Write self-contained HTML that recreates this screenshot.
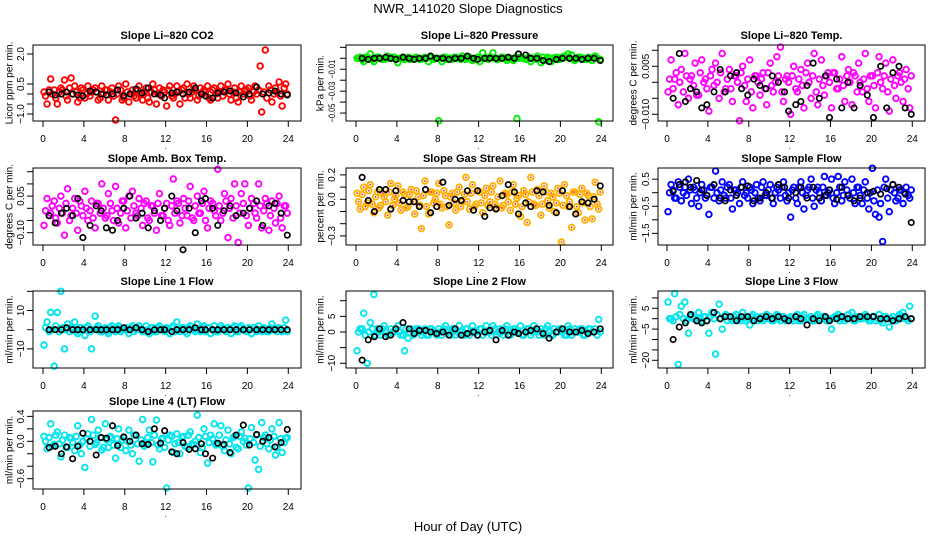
<!DOCTYPE html>
<html><head><meta charset="utf-8"><title>NWR_141020 Slope Diagnostics</title>
<style>
html,body{margin:0;padding:0;background:#fff;}
svg{display:block;font-family:"Liberation Sans",Arial,sans-serif;}
</style></head>
<body>
<svg id="chart" width="936" height="540" viewBox="0 0 936 540" xmlns="http://www.w3.org/2000/svg">
<rect width="936" height="540" fill="#fff"/>
<text x="468" y="13" text-anchor="middle" font-size="13">NWR_141020  Slope Diagnostics</text>
<text x="468" y="531" text-anchor="middle" font-size="13">Hour of Day (UTC)</text>
</svg>
<script>
// shared hour categories
const hoursColor = [0.1,0.4,0.75,1.1,1.4,1.75,2.1,2.4,2.75,3.1,3.4,3.75,4.1,4.4,4.75,5.1,5.4,5.75,6.1,6.4,6.75,7.1,7.4,7.75,8.1,8.4,8.75,9.1,9.4,9.75,10.1,10.4,10.75,11.1,11.4,11.75,12.1,12.4,12.75,13.1,13.4,13.75,14.1,14.4,14.75,15.1,15.4,15.75,16.1,16.4,16.75,17.1,17.4,17.75,18.1,18.4,18.75,19.1,19.4,19.75,20.1,20.4,20.75,21.1,21.4,21.75,22.1,22.4,22.75,23.1,23.4,23.75];
const hoursColor2 = [0.25,0.6,0.9,1.25,1.6,1.9,2.25,2.6,2.9,3.25,3.6,3.9,4.25,4.6,4.9,5.25,5.6,5.9,6.25,6.6,6.9,7.25,7.6,7.9,8.25,8.6,8.9,9.25,9.6,9.9,10.25,10.6,10.9,11.25,11.6,11.9,12.25,12.6,12.9,13.25,13.6,13.9,14.25,14.6,14.9,15.25,15.6,15.9,16.25,16.6,16.9,17.25,17.6,17.9,18.25,18.6,18.9,19.25,19.6,19.9,20.25,20.6,20.9,21.25,21.6,21.9,22.25,22.6,22.9,23.25,23.6,23.9];
const hoursBlack = [0.6,1.2,1.8,2.3,2.9,3.4,3.9,4.6,5.2,5.7,6.2,6.8,7.3,7.9,8.5,9.1,9.7,10.3,10.9,11.5,11.9,12.6,13.1,13.7,14.3,14.9,15.5,15.9,16.6,17.1,17.7,18.3,18.9,19.6,20.2,20.9,21.5,22.1,22.7,23.3,23.9];
const xTicks = [0,4,8,12,16,20,24];

const co2Color = [0.1,-0.5,0.75,0.2,-0.5,0.3,0.7,-0.3,0.8,0.4,-0.4,0.3,-0.2,0.4,0.1,0.3,-0.3,0.4,0.2,-0.3,0.3,-1.3,0.4,-0.3,0.5,-0.4,0.2,-0.2,0.4,-0.3,0.3,-0.4,0.5,-0.5,0.3,0.2,-0.6,0.4,-0.2,0.4,-0.5,0.3,0.5,-0.2,0.4,-0.3,0.3,0.2,0.4,-0.3,0.3,-0.2,0.4,0.2,0.5,-0.3,0.3,-0.4,0.4,0.2,0.3,-0.3,0.4,0.2,-0.9,2.2,0.4,-0.4,0.3,0.6,-0.6,0.5];
const co2Color2 = [-0.1,0.2,0.0,-0.2,0.1,0.2,-0.1,0.3,0.0,0.1,-0.2,0.2,0.0,-0.1,0.2,0.1,-0.2,0.0,0.2,0.1,-0.1,0.0,0.2,-0.2,0.1,0.0,-0.1,0.2,0.0,0.1,-0.2,0.1,0.2,0.0,-0.1,0.1,0.2,-0.1,0.0,0.1,0.2,-0.2,0.0,0.1,0.2,-0.1,0.0,0.1,-0.2,0.2,0.0,0.1,-0.1,0.2,0.0,0.1,-0.2,0.1,0.0,0.2,-0.1,0.1,0.0,1.4,0.1,-0.2,0.2,0.0,0.1,-0.1,0.3,0.0];
const co2Black = [0.1,-0.05,0.0,0.1,0.0,-0.05,-0.1,0.15,0.1,0.0,-0.05,0.0,0.2,-0.1,0.0,0.25,0.05,0.3,0.0,-0.05,-0.2,0.05,0.1,0.0,0.1,0.3,0.0,-0.1,-0.2,0.05,0.1,0.15,0.05,-0.15,0.0,0.35,0.0,0.05,0.15,0.0,-0.05];
const presColor = [0.000,0.001,-0.003,0.001,0.004,-0.003,0.001,0.000,-0.001,0.002,0.000,0.001,-0.004,0.000,-0.001,0.001,-0.001,0.000,0.000,-0.001,0.001,-0.003,0.001,0.000,-0.057,-0.003,0.001,0.000,-0.001,0.001,0.000,0.002,-0.001,0.001,-0.002,0.000,-0.003,0.005,0.000,0.001,0.005,-0.001,0.000,0.001,-0.002,0.000,-0.002,-0.055,0.001,0.000,-0.001,-0.003,0.000,0.002,-0.004,-0.002,0.001,-0.003,0.000,-0.001,0.001,0.002,0.004,0.003,-0.002,0.001,0.000,-0.001,0.001,-0.002,0.002,-0.058];
const presColor2 = [0.000,-0.001,0.001,0.000,-0.001,0.000,0.001,-0.001,0.000,0.000,0.001,-0.001,0.000,0.001,0.000,-0.001,0.000,0.001,-0.001,0.000,0.000,0.001,-0.001,0.000,0.000,0.001,-0.001,0.000,0.001,0.000,-0.001,0.000,0.001,0.000,-0.001,0.001,0.000,0.000,-0.001,0.001,0.000,-0.001,0.001,0.000,0.000,-0.001,0.001,0.000,0.000,-0.001,0.001,0.000,-0.001,0.000,0.001,-0.001,0.000,0.000,0.001,-0.001,0.000,0.001,0.000,-0.001,0.000,0.001,0.000,-0.001,0.000,0.001,0.000,-0.001];
const presBlack = [0.000,-0.001,0.000,0.000,0.001,0.000,-0.001,0.001,0.000,-0.001,0.000,0.000,0.002,0.000,0.000,-0.001,0.000,0.000,0.002,0.000,-0.001,0.000,0.000,0.000,0.000,0.001,0.000,0.004,0.003,0.000,0.000,-0.002,-0.003,-0.001,0.000,0.000,0.000,-0.001,0.000,0.000,-0.002];
const liTempColor = [-0.003,0.007,0.001,-0.007,0.004,0.009,-0.005,0.002,0.006,-0.004,0.007,0.001,-0.009,0.004,0.006,-0.005,0.009,-0.002,0.004,-0.006,0.002,-0.012,0.005,-0.006,0.007,-0.008,0.002,-0.004,0.003,-0.007,0.006,-0.003,0.008,0.011,-0.006,0.002,-0.010,0.005,-0.003,0.004,-0.008,0.006,-0.005,0.009,-0.007,0.007,-0.004,0.003,-0.008,0.003,-0.002,0.008,-0.006,0.004,-0.007,0.002,0.006,-0.003,0.009,-0.006,0.002,-0.008,0.008,-0.002,0.006,-0.009,0.007,-0.005,0.003,-0.006,0.004,-0.008];
const liTempColor2 = [0.001,-0.002,0.003,0.000,-0.003,0.002,0.001,-0.001,-0.004,0.003,0.000,-0.002,0.002,-0.001,0.000,0.003,-0.003,0.001,-0.002,0.002,0.000,0.003,-0.001,0.001,-0.003,0.002,0.000,0.001,-0.002,0.003,-0.001,0.000,0.002,-0.003,0.001,0.000,0.002,-0.002,0.001,-0.001,0.003,0.000,0.002,-0.003,0.001,-0.001,0.002,0.000,0.003,-0.002,0.001,-0.001,0.002,0.000,0.003,-0.003,0.000,0.001,-0.002,0.002,-0.001,0.003,0.000,0.002,-0.003,0.001,-0.001,0.002,0.000,0.001,-0.002,0.002];
const liTempBlack = [-0.005,0.009,-0.006,-0.002,-0.003,-0.008,-0.007,-0.003,0.004,-0.003,0.002,0.003,-0.002,-0.004,0.001,-0.001,-0.002,0.002,0.000,-0.003,-0.009,-0.007,-0.006,-0.001,0.006,-0.005,0.002,-0.011,0.001,-0.008,0.000,-0.008,-0.001,-0.004,-0.011,0.005,-0.008,0.003,0.005,-0.008,-0.010];
const boxTempColor = [-0.07,0.04,-0.02,0.03,-0.06,0.05,-0.11,0.08,-0.03,0.04,-0.09,0.01,0.07,-0.05,0.03,-0.08,0.02,0.10,-0.04,0.06,-0.01,0.09,-0.06,0.03,-0.08,0.05,0.07,-0.02,0.04,-0.07,0.03,-0.05,0.01,-0.09,0.06,-0.03,0.02,-0.07,0.12,0.03,-0.06,0.04,-0.03,0.09,-0.05,0.05,-0.02,0.07,-0.08,0.03,-0.01,0.16,-0.05,0.06,-0.12,0.04,0.10,-0.14,0.06,0.10,-0.07,0.04,-0.02,0.10,-0.08,0.04,-0.09,0.03,-0.06,0.05,-0.08,0.01];
const boxTempColor2 = [-0.01,-0.03,0.01,-0.04,0.00,-0.02,0.02,-0.05,0.00,-0.02,0.03,-0.03,0.00,-0.01,-0.04,0.02,-0.02,0.00,-0.03,0.02,-0.05,0.00,-0.02,0.03,-0.01,-0.04,0.01,-0.03,0.00,0.02,-0.04,0.01,-0.02,0.02,-0.03,0.00,-0.05,0.01,-0.02,0.02,-0.03,0.00,0.03,-0.04,0.01,-0.02,0.02,-0.05,0.00,0.02,-0.03,0.01,-0.02,0.03,0.00,-0.04,0.01,-0.02,0.02,-0.03,0.00,0.02,-0.04,0.01,-0.01,0.02,-0.03,0.00,0.02,-0.04,0.01,-0.02];
const boxTempBlack = [-0.03,-0.06,-0.02,0.00,-0.03,0.04,-0.12,-0.07,0.01,-0.01,-0.08,-0.09,-0.05,0.00,0.05,-0.04,-0.02,-0.08,-0.01,-0.05,0.00,0.05,-0.01,-0.17,0.00,-0.10,0.03,0.04,0.00,-0.07,-0.01,0.01,-0.03,-0.02,0.00,0.03,-0.07,0.01,0.02,-0.02,-0.11];
const rhColor = [0.05,-0.08,0.10,-0.03,0.12,-0.11,0.06,-0.05,0.02,-0.13,0.13,0.00,0.11,-0.09,0.04,-0.06,0.08,-0.12,0.02,-0.24,0.15,-0.12,0.06,0.00,0.13,-0.07,0.03,-0.21,0.05,-0.09,0.10,-0.02,0.18,-0.08,0.12,-0.04,0.06,-0.11,0.09,-0.02,0.11,-0.07,0.15,-0.05,0.04,-0.09,0.12,0.01,-0.14,0.07,-0.19,0.18,-0.04,0.08,-0.13,0.11,-0.01,0.05,-0.10,0.09,-0.35,0.12,-0.06,-0.23,0.06,-0.11,0.09,-0.17,0.03,-0.16,0.14,-0.08];
const rhColor2 = [-0.02,0.04,-0.06,0.07,-0.04,0.02,-0.07,0.05,-0.02,0.06,-0.05,0.03,-0.03,0.06,-0.07,0.04,-0.02,0.07,-0.05,0.03,-0.06,0.06,-0.03,0.05,-0.04,0.07,-0.06,0.02,-0.03,0.06,-0.06,0.04,-0.02,0.05,-0.06,0.07,-0.03,0.03,-0.05,0.06,-0.04,0.02,-0.07,0.05,-0.02,0.06,-0.04,0.03,-0.06,0.04,-0.02,0.06,-0.05,0.03,-0.04,0.06,-0.07,0.02,-0.03,0.05,-0.05,0.03,-0.02,0.06,-0.06,0.04,-0.03,0.05,-0.06,0.02,-0.04,0.06];
const rhBlack = [0.18,-0.01,-0.10,0.08,0.08,-0.08,0.07,-0.01,-0.02,-0.02,-0.06,0.08,-0.11,-0.06,0.14,-0.05,0.00,-0.01,0.07,-0.09,0.07,-0.14,-0.07,-0.08,0.03,0.12,0.06,-0.12,-0.03,-0.06,0.07,0.06,-0.05,-0.11,0.07,-0.06,-0.12,-0.02,-0.03,0.00,0.11];
const sampleColor = [-0.7,0.3,-0.2,0.4,-0.3,0.2,0.5,-0.4,0.1,-0.5,0.3,-0.2,-0.8,0.2,0.8,-0.3,0.4,-0.2,0.3,-0.6,0.1,-0.4,0.4,0.0,0.2,-0.4,0.3,-0.3,0.4,-0.1,0.3,-0.4,0.2,-0.2,0.4,-0.3,-0.9,0.2,-0.4,0.4,-0.6,0.1,0.5,-0.5,0.2,-0.3,0.6,0.0,0.5,-0.4,0.6,-0.3,0.4,-0.1,0.5,-0.4,0.2,-0.4,0.4,-0.6,0.9,-0.8,-0.9,-1.8,0.5,-0.7,0.3,-0.3,0.1,-0.4,0.2,-0.2];
const sampleColor2 = [0.0,0.1,-0.2,0.2,0.0,-0.1,0.1,0.2,-0.2,0.0,0.1,-0.1,0.2,-0.2,0.0,0.1,-0.1,0.2,-0.2,0.1,0.0,0.2,-0.1,-0.2,0.1,0.0,-0.2,0.2,-0.1,0.1,-0.2,0.0,0.1,0.2,-0.1,0.0,0.1,-0.2,0.2,0.0,-0.1,0.2,-0.2,0.1,0.0,0.2,-0.1,0.1,-0.2,0.0,0.2,-0.1,0.1,-0.2,0.0,0.2,-0.1,0.1,-0.2,0.0,-0.3,0.1,-0.4,0.2,-0.2,0.1,0.0,-0.2,0.1,0.0,-0.1,0.1];
const sampleBlack = [0.05,0.3,0.4,0.2,0.45,0.1,-0.1,0.3,-0.2,-0.3,0.1,-0.1,0.2,0.25,-0.3,-0.2,0.0,-0.2,0.3,0.2,-0.2,0.0,0.2,-0.2,0.2,-0.2,-0.1,0.1,-0.25,0.2,-0.1,-0.3,-0.2,0.0,0.05,-0.05,0.15,0.3,0.2,-0.05,-1.1];
const line1Color = [-8,4,9,-19,9,20,-10,3,1,4,-2,1,-3,2,-10,7,2,-1,1,-2,2,-1,2,0,1,-2,2,0,2,-1,2,-2,1,-1,2,0,1,-2,2,4,-1,1,-2,2,0,3,-1,2,1,-2,2,-1,2,0,1,-2,2,-1,2,0,1,-2,1,2,-1,0,-1,3,1,1,-1,5];
const line1Color2 = [1,-1,0,2,-1,1,0,-1,1,-1,1,0,1,-1,0,1,-1,0,-1,1,0,1,-1,0,0,1,-1,1,0,-1,0,1,-1,1,0,-1,0,1,-1,0,1,-1,1,0,-1,0,1,-1,1,0,-1,0,1,-1,0,1,-1,1,0,-1,0,1,-1,0,1,-1,1,0,-1,0,1,-1];
const line1Black = [0,0,0,1,0,0,0,0,0,0,0,0,0,1,0,1,0,-1,0,0,0,-1,0,0,0,1,0,0,0,0,0,0,0,0,0,0,0,0,0,0,0];
const line2Color = [-6,1,6,-10,3,12,1,-1,2,-1,1,0,2,-1,-6,-2,1,0,1,-1,1,-1,1,0,1,-1,2,0,1,-1,2,-1,1,-1,2,0,1,-1,2,0,2,-1,1,-1,2,-1,1,0,2,-1,1,-1,2,0,1,-1,2,-1,1,0,1,-1,2,-1,1,0,1,-1,1,0,1,4];
const line2Color2 = [0,1,-1,0,1,-1,0,1,0,-1,0,1,0,-1,1,0,-1,1,0,0,-1,1,0,-1,0,1,0,-1,1,0,0,-1,1,0,0,-1,1,0,0,-1,1,0,0,1,-1,0,1,0,-1,0,1,0,1,-1,0,1,0,-1,0,1,0,-1,1,0,0,1,-1,0,1,0,-1,0];
const line2Black = [-9,-2.5,-1.5,1,-1.5,-1,1,3,1,-0.5,0.5,0.5,0,-0.5,0,-1,1,-1,-0.5,0,-1,0,0.5,-2.5,0.5,-1,0,-0.5,0,0.5,1,-0.5,-2,0,1,0,0,0.5,-0.5,0,1];
const line3Color = [8,0,12,-22,6,8,-7,2,0,3,-1,1,-7,3,-17,7,-5,2,1,-1,2,0,3,-1,-3,2,1,0,-1,2,1,-1,2,-1,1,0,1,-1,2,-1,2,0,1,-1,2,0,1,-1,-5,1,2,0,-1,2,3,-1,1,0,2,-1,1,-1,2,-2,1,-4,1,-1,2,3,0,6];
const line3Color2 = [0,-1,1,2,0,-1,1,0,-1,0,1,-1,1,0,2,0,1,-1,0,1,0,-1,1,0,1,0,-1,1,0,0,-1,1,0,1,-1,0,0,1,-1,1,0,0,-1,1,0,1,-1,0,0,1,-1,1,0,0,-1,1,0,1,0,-1,1,0,-1,1,0,0,-1,1,0,1,-1,0];
const line3Black = [-10,-4,-2,2,-1,-2,-1,3,0,1,1,-1,1,1,-1,0,1,0,1,0,-1,1,0,-3,0,-1,1,-1,0,1,0,0,1,1,1,0,0,-1,0,1,0];
const line4Color = [0.08,-0.12,0.28,-0.05,0.15,-0.25,0.10,-0.10,0.05,-0.15,0.25,-0.20,-0.42,0.12,0.35,-0.05,0.18,-0.14,0.28,-0.10,0.05,-0.27,0.20,0.02,-0.15,0.18,-0.20,0.10,-0.32,0.35,-0.05,0.18,-0.33,0.34,-0.12,0.05,-0.75,0.10,-0.18,0.12,-0.20,0.08,-0.10,0.15,-0.05,0.42,-0.18,0.20,-0.35,0.10,0.28,-0.05,0.25,-0.15,0.18,-0.20,0.08,-0.12,0.15,0.05,-0.75,0.22,-0.30,-0.45,0.30,0.10,-0.12,0.20,-0.22,0.30,-0.18,0.05];
const line4Color2 = [0.00,0.06,-0.08,0.10,-0.04,0.02,-0.10,0.06,-0.02,0.08,-0.06,0.00,0.04,-0.08,0.10,-0.02,0.06,-0.10,0.02,0.08,-0.06,0.04,-0.10,0.06,0.00,-0.06,0.10,-0.04,0.02,-0.08,0.06,-0.02,0.10,-0.06,0.04,-0.10,0.02,0.08,-0.04,-0.02,0.06,-0.08,0.10,-0.04,0.00,0.06,-0.10,0.08,-0.02,0.04,-0.06,0.10,-0.08,0.02,-0.04,0.06,-0.10,0.08,0.00,-0.06,0.04,-0.02,0.10,-0.08,0.06,-0.04,0.02,0.08,-0.10,0.04,-0.02,0.06];
const line4Black = [-0.10,-0.08,-0.20,-0.09,-0.28,-0.08,0.13,0.00,-0.22,0.06,0.05,0.25,-0.07,0.07,0.00,0.10,-0.04,-0.05,0.20,-0.03,0.17,-0.17,-0.20,-0.02,-0.13,-0.12,-0.04,-0.20,-0.27,-0.03,-0.05,-0.18,0.10,0.26,-0.06,0.11,0.00,0.06,-0.09,-0.02,0.19];

const NS = "http://www.w3.org/2000/svg";
const svg = document.getElementById('chart');
const cols = [{x0:43,left:33,right:301,ylab:9,tl:24},{x0:356,left:346,right:613,ylab:320,tl:335},{x0:667,left:658,right:925,ylab:633,tl:649}];
const rows = [{top:45,bottom:121},{top:168,bottom:245},{top:291,bottom:368},{top:411,bottom:489}];
const pxHour = 10.22;

const panels = [
 {key:'co2',title:'Slope Li\u2013820 CO2',ylabel:'Licor ppm per min.',r:0,c:0,y0:94,k:20,ticks:[-1,-0.5,0,0.5,2],labels:{'-1':'\u22121.0','0.5':'0.5','2':'2.0'},col:'#ff0000',cv:co2Color,cv2:co2Color2,bv:co2Black},
 {key:'pressure',title:'Slope Li\u2013820 Pressure',ylabel:'kPa per min.',r:0,c:1,y0:58.3,k:1095,fs:9,tlen:19,ticks:[0.01,0,-0.01,-0.02,-0.03,-0.04,-0.05],labels:{'-0.01':'\u22120.01','-0.03':'\u22120.03','-0.05':'\u22120.05'},col:'#00ee00',cv:presColor,cv2:presColor2,bv:presBlack},
 {key:'li-temp',title:'Slope Li\u2013820 Temp.',ylabel:'degrees C per min.',r:0,c:2,y0:82.3,k:3200,ticks:[0.01,0.005,0,-0.005,-0.01],labels:{'0.005':'0.005','-0.01':'\u22120.010'},col:'#ff00ff',cv:liTempColor,cv2:liTempColor2,bv:liTempBlack},
 {key:'box-temp',title:'Slope Amb. Box Temp.',ylabel:'degrees C per min.',r:1,c:0,y0:208.3,k:244,ticks:[0.15,0.1,0.05,0,-0.05,-0.1],labels:{'0.05':'0.05','-0.1':'\u22120.10'},col:'#ff00ff',cv:boxTempColor,cv2:boxTempColor2,bv:boxTempBlack},
 {key:'rh',title:'Slope Gas Stream RH',ylabel:'percent per min.',r:1,c:1,y0:199.3,k:122,ticks:[0.2,0.1,0,-0.1,-0.2,-0.3],labels:{'0.2':'0.2','0':'0.0','-0.3':'\u22120.3'},col:'#ffb000',inner:'#ff2020',cv:rhColor,cv2:rhColor2,bv:rhBlack},
 {key:'sample-flow',title:'Slope Sample Flow',ylabel:'ml/min per min.',r:1,c:2,y0:192.7,k:27.1,ticks:[0.5,0,-0.5,-1,-1.5],labels:{'0.5':'0.5','-0.5':'\u22120.5','-1.5':'\u22121.5'},col:'#0000ff',cv:sampleColor,cv2:sampleColor2,bv:sampleBlack},
 {key:'line1-flow',title:'Slope Line 1 Flow',ylabel:'ml/min per min.',r:2,c:0,y0:329.7,k:1.92,ticks:[20,10,0,-10],labels:{'10':'10','-10':'\u221210'},col:'#00e5ee',cv:line1Color,cv2:line1Color2,bv:line1Black},
 {key:'line2-flow',title:'Slope Line 2 Flow',ylabel:'ml/min per min.',r:2,c:1,y0:332,k:3.13,ticks:[10,5,0,-5,-10],labels:{'5':'5','0':'0','-10':'\u221210'},col:'#00e5ee',cv:line2Color,cv2:line2Color2,bv:line2Black},
 {key:'line3-flow',title:'Slope Line 3 Flow',ylabel:'ml/min per min.',r:2,c:2,y0:318.7,k:2.08,ticks:[10,5,0,-5,-10,-15,-20],labels:{'5':'5','-5':'\u22125','-20':'\u221220'},col:'#00e5ee',cv:line3Color,cv2:line3Color2,bv:line3Black},
 {key:'line4-flow',title:'Slope Line 4 (LT) Flow',ylabel:'ml/min per min.',r:3,c:0,y0:441.3,k:62.3,ticks:[0.4,0.2,0,-0.2,-0.4,-0.6],labels:{'0.4':'0.4','0':'0.0','-0.6':'\u22120.6'},col:'#00e5ee',cv:line4Color,cv2:line4Color2,bv:line4Black}
];

function mk(tag, attrs, parent){
  const e = document.createElementNS(NS, tag);
  for (const a in attrs) e.setAttribute(a, attrs[a]);
  (parent||svg).appendChild(e);
  return e;
}

panels.forEach(p => {
  const C = cols[p.c], R = rows[p.r];
  const xs = h => C.x0 + h * pxHour;
  const ys = v => p.y0 - v * p.k;
  const g = mk('g', {});
  
  

  const t = mk('text', {x:(C.left+C.right)/2, y:R.top-6, 'text-anchor':'middle', 'font-size':11, 'font-weight':'bold'}, g);
  t.textContent = p.title;
  
  

  const yl = mk('text', {x:C.ylab, y:(R.top+R.bottom)/2, 'text-anchor':'middle', 'font-size':10, transform:'rotate(-90 '+C.ylab+' '+(R.top+R.bottom)/2+')', dy:'0.35em'}, g);
  yl.textContent = p.ylabel;
  
  

  const cg = mk('g', {fill:'none', stroke:p.col, 'stroke-width':1.9}, g);
  
  
  function drawColored(hrs, vals){
    const n = Math.min(hrs.length, vals.length);
    for (let i=0;i<n;i++){
      const cx = xs(hrs[i]), cy = ys(vals[i]);
      const c = mk('circle', {cx:cx, cy:cy, r:2.8}, cg);
      
      
      if (p.inner){
        const d = mk('circle', {cx:cx, cy:cy, r:0.9, fill:p.inner, stroke:'none'}, cg);
        
        
      }
    }
  }
  drawColored(hoursColor, p.cv);
  drawColored(hoursColor2, p.cv2);

  const bg = mk('g', {fill:'none', stroke:'#000', 'stroke-width':1.7}, g);
  
  
  const m = Math.min(hoursBlack.length, p.bv.length);
  for (let i=0;i<m;i++){
    const c = mk('circle', {cx:xs(hoursBlack[i]), cy:ys(p.bv[i]), r:2.7}, bg);
    
    
  }

  const box = mk('rect', {x:C.left, y:R.top, width:C.right-C.left, height:R.bottom-R.top, fill:'none', stroke:'#000', 'stroke-width':1}, g);
  
  

  const xa = mk('g', {}, g);
  
  
  xTicks.forEach(h => {
    const x = xs(h);
    mk('line', {x1:x, x2:x, y1:R.bottom, y2:R.bottom+6, stroke:'#000'}, xa);
    const tl = mk('text', {x:x, y:R.bottom+21, 'text-anchor':'middle', 'font-size':10}, xa);
    tl.textContent = h;
    
    
  });
  const dot = mk('text', {x:xs(12), y:R.bottom+28, 'text-anchor':'middle', 'font-size':8}, xa);
  dot.textContent = '.';
  
  

  const ya = mk('g', {}, g);
  
  
  p.ticks.forEach(v => {
    const y = ys(v);
    mk('line', {x1:C.left-6, x2:C.left, y1:y, y2:y, stroke:'#000'}, ya);
    const lab = p.labels[String(v)];
    if (lab){
      const tx = C.tl;
      const attrs = {x:tx, y:y, 'text-anchor':'middle', 'font-size':p.fs||10, transform:'rotate(-90 '+tx+' '+y+')'};
      if (p.tlen){ attrs.textLength = p.tlen; attrs.lengthAdjust = 'spacingAndGlyphs'; }
      const tl = mk('text', attrs, ya);
      tl.textContent = lab;
      
      
    }
  });
});
</script>
</body></html>
